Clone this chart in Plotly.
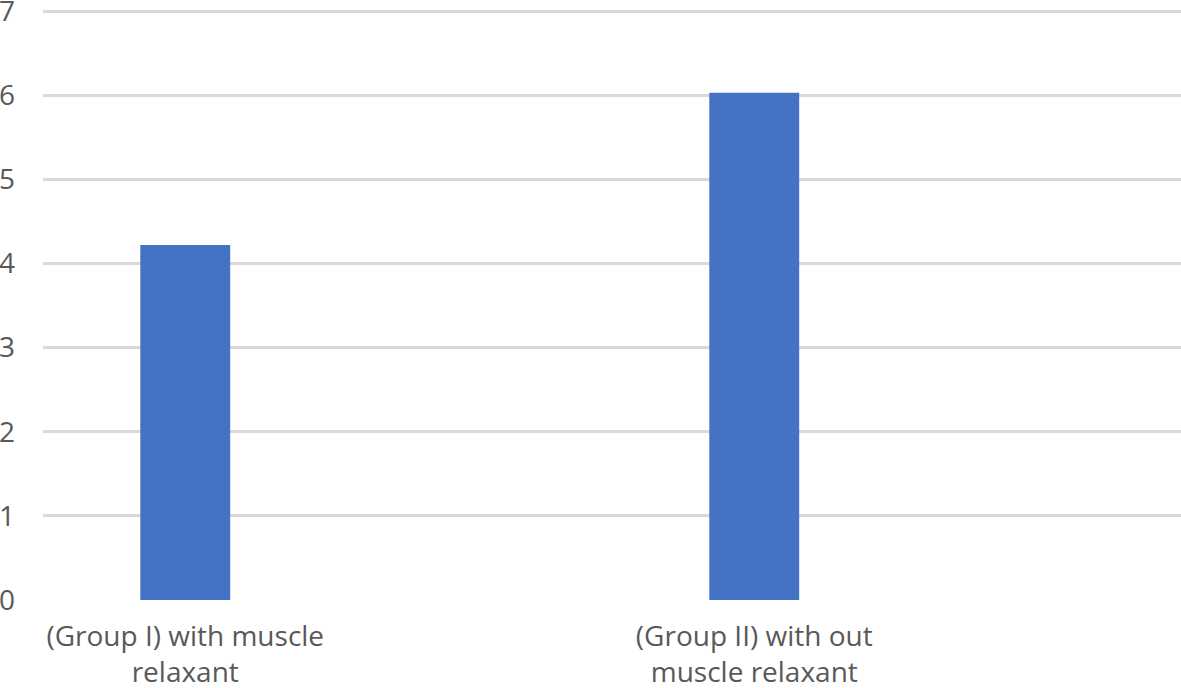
import plotly.graph_objects as go

categories = ["(Group I) with muscle<br>relaxant", "(Group II) with out<br>muscle relaxant"]
positions = [0, 1]
values = [4.22, 6.03]
y_ticks = [0, 1, 2, 3, 4, 5, 6, 7]

TEXT = "#595959"
GRID = "#d9d9d9"

fig = go.Figure(
    go.Bar(
        x=positions,
        y=values,
        width=0.158,
        marker=dict(color="#4472C4", line=dict(width=0)),
    )
)

fig.update_layout(
    width=1181,
    height=688,
    margin=dict(l=43, r=0, t=7, b=88),
    paper_bgcolor="white",
    plot_bgcolor="white",
    showlegend=False,
    font=dict(family="Open Sans", size=28, color=TEXT),
    xaxis=dict(
        range=[-0.25, 1.75],
        tickvals=positions,
        ticktext=categories,
        showgrid=False,
        zeroline=False,
        showline=False,
        ticks="",
        ticklabelstandoff=17,
        automargin=False,
    ),
    yaxis=dict(
        range=[0, 7.05],
        tickvals=y_ticks,
        showgrid=True,
        gridcolor=GRID,
        gridwidth=2.5,
        zeroline=False,
        showline=False,
        ticks="",
        ticklabelstandoff=27,
        ticklabeloverflow="allow",
        automargin=False,
    ),
)

# drop the default 8px body margin so the figure sits at the page corner
fig.write_html(
    "out.html",
    config={"displayModeBar": False},
    post_script="document.body.style.margin='0';",
)
